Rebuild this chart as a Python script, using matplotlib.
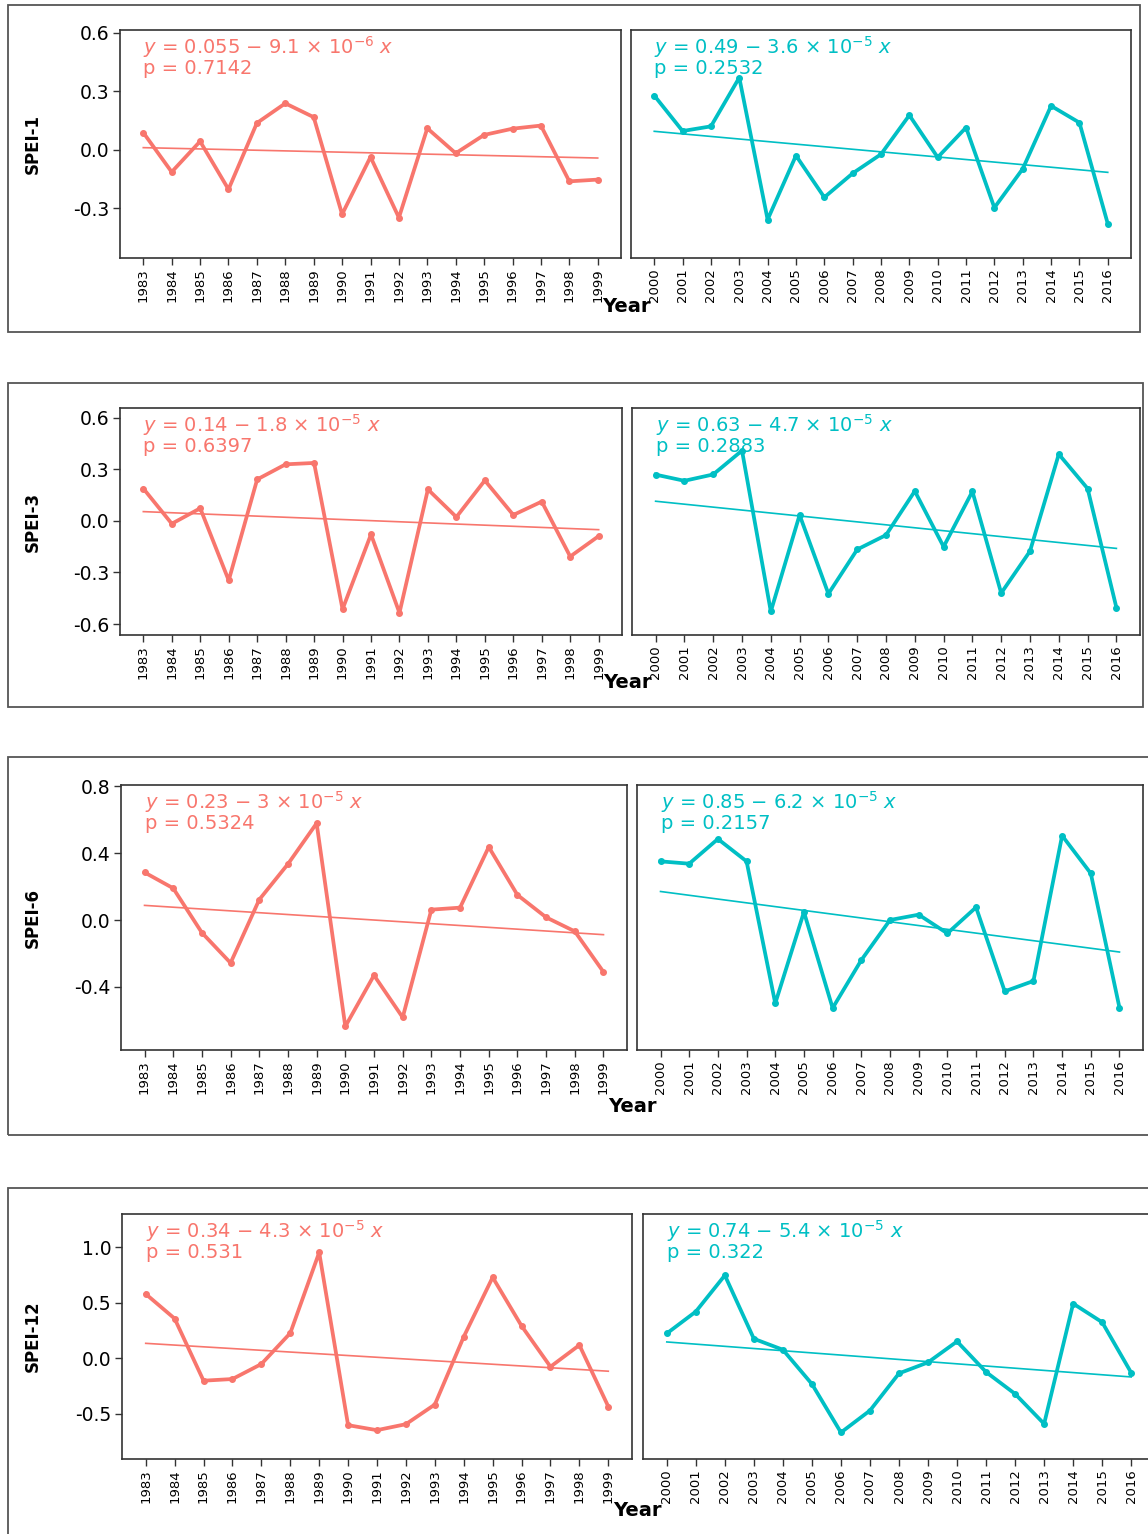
"""
SPEI-1/3/6/12 annual series for 1983-1999 and 2000-2016,
each half with its linear trend and the fitted equation.
"""

import numpy as np
import matplotlib
matplotlib.use("Agg")
import matplotlib.pyplot as plt
from matplotlib.patches import Rectangle

FIG_W, FIG_H = 1148, 1534
DPI = 100

RED = "#F8766D"
CYAN = "#00BFC4"

years_early = list(range(1983, 2000))
years_late = list(range(2000, 2017))

scales = ["SPEI-1", "SPEI-3", "SPEI-6", "SPEI-12"]

# SPEI values, 1983-1999
spei1_early = [0.089, -0.113, 0.044, -0.202, 0.138, 0.239, 0.168, -0.330, -0.036,
               -0.347, 0.111, -0.017, 0.077, 0.109, 0.125, -0.161, -0.152]
spei3_early = [0.189, -0.016, 0.074, -0.346, 0.242, 0.330, 0.338, -0.514, -0.078,
               -0.535, 0.184, 0.023, 0.236, 0.035, 0.113, -0.207, -0.088]
spei6_early = [0.285, 0.190, -0.076, -0.257, 0.122, 0.335, 0.579, -0.637, -0.331,
               -0.583, 0.062, 0.074, 0.437, 0.150, 0.016, -0.068, -0.311]
spei12_early = [0.581, 0.359, -0.201, -0.186, -0.051, 0.228, 0.955, -0.602, -0.647,
                -0.593, -0.416, 0.195, 0.731, 0.293, -0.075, 0.120, -0.434]

# SPEI values, 2000-2016
spei1_late = [0.279, 0.097, 0.121, 0.371, -0.357, -0.029, -0.243, -0.120, -0.022,
              0.178, -0.038, 0.115, -0.296, -0.097, 0.226, 0.140, -0.378]
spei3_late = [0.270, 0.234, 0.271, 0.410, -0.527, 0.035, -0.424, -0.166, -0.082,
              0.174, -0.150, 0.172, -0.420, -0.176, 0.389, 0.189, -0.504]
spei6_late = [0.351, 0.337, 0.485, 0.351, -0.499, 0.048, -0.527, -0.240, 0.000,
              0.032, -0.080, 0.076, -0.427, -0.365, 0.505, 0.279, -0.525]
spei12_late = [0.225, 0.422, 0.749, 0.177, 0.078, -0.231, -0.668, -0.470, -0.135,
               -0.036, 0.153, -0.123, -0.320, -0.590, 0.494, 0.326, -0.129]

# trend fits, x = days since 1970-01-01
intercept_early = [0.055, 0.14, 0.23, 0.34]
slope_early = [-9.1e-6, -1.8e-5, -3e-5, -4.3e-5]
p_early = [0.7142, 0.6397, 0.5324, 0.531]

intercept_late = [0.49, 0.63, 0.85, 0.74]
slope_late = [-3.6e-5, -4.7e-5, -6.2e-5, -5.4e-5]
p_late = [0.2532, 0.2883, 0.2157, 0.322]

# y axis ticks for each index
yticks = [
    [-0.3, 0.0, 0.3, 0.6],
    [-0.6, -0.3, 0.0, 0.3, 0.6],
    [-0.4, 0.0, 0.4, 0.8],
    [-0.5, 0.0, 0.5, 1.0],
]
ylims = [(-0.554, 0.615), (-0.664, 0.658), (-0.778, 0.808), (-0.907, 1.302)]

# panel geometry in pixels: box, axes top/bottom, left axes x, right axes x, Year label y
layout = [
    dict(box=(8, 5, 1140, 332), top=30, bottom=258, left=(120, 621), right=(631, 1131), year_y=307),
    dict(box=(8, 383, 1143, 707), top=408, bottom=635, left=(120, 622), right=(632, 1140), year_y=683),
    dict(box=(8, 757, 1160, 1135), top=785, bottom=1050, left=(121, 627), right=(637, 1143), year_y=1106),
    dict(box=(8, 1188, 1165, 1560), top=1214, bottom=1459, left=(122, 632), right=(643, 1155), year_y=1511),
]

PAD = 0.82
plt.rcParams["font.family"] = "DejaVu Sans"
plt.rcParams["mathtext.fontset"] = "dejavusans"


def px_rect(left, top, right, bottom):
    return [left / FIG_W, 1 - bottom / FIG_H, (right - left) / FIG_W, (bottom - top) / FIG_H]


def day_numbers(years):
    dates = np.array([f"{y}-01-01" for y in years], dtype="datetime64[D]")
    return (dates - np.datetime64("1970-01-01", "D")).astype(float)


def equation_text(intercept, slope):
    exp = int(np.floor(np.log10(abs(slope))))
    mant = float(f"{abs(slope) / 10 ** exp:.2g}")
    sign = "−" if slope < 0 else "+"
    return f"$y$ = {intercept:g} {sign} {mant:g} × 10$^{{{exp}}}$ $x$"


def draw_half(ax, years, values, intercept, slope, p, color, ylim, ticks, show_y):
    ax.plot(years, values, color=color, lw=2.7, marker="o", ms=4, zorder=3)

    # trend line from the fitted equation
    trend = intercept + slope * day_numbers(years)
    ax.plot(years, trend, color=color, lw=1.2, zorder=2)

    ax.set_xlim(years[0] - PAD, years[-1] + PAD)
    ax.set_ylim(*ylim)
    ax.set_xticks(years)
    ax.set_xticklabels([str(y) for y in years], rotation=90, fontsize=9.5)

    if show_y:
        ax.set_yticks(ticks)
        ax.set_yticklabels([f"{t:.1f}" for t in ticks], fontsize=13.5)
    else:
        ax.set_yticks([])

    ax.tick_params(direction="out", length=5, width=1, color="#333333", pad=2.5)
    for spine in ax.spines.values():
        spine.set_color("#333333")
        spine.set_linewidth(1.2)

    # equation and p value as one two-line label
    label = equation_text(intercept, slope) + f"\np = {p:g}"
    ax.annotate(label, xy=(years[0], 1),
                xycoords=("data", "axes fraction"), xytext=(0, -3),
                textcoords="offset points", ha="left", va="top",
                color=color, fontsize=14, linespacing=0.92)


def main():
    fig = plt.figure(figsize=(FIG_W / DPI, FIG_H / DPI), dpi=DPI)

    early = [spei1_early, spei3_early, spei6_early, spei12_early]
    late = [spei1_late, spei3_late, spei6_late, spei12_late]

    for i, lay in enumerate(layout):
        bl, bt, br, bb = lay["box"]
        fig.patches.append(Rectangle((bl / FIG_W, 1 - bb / FIG_H), (br - bl) / FIG_W,
                                     (bb - bt) / FIG_H, transform=fig.transFigure,
                                     fill=False, edgecolor="#555555", lw=1.3))

        ax_l = fig.add_axes(px_rect(lay["left"][0], lay["top"], lay["left"][1], lay["bottom"]))
        ax_r = fig.add_axes(px_rect(lay["right"][0], lay["top"], lay["right"][1], lay["bottom"]))

        draw_half(ax_l, years_early, early[i], intercept_early[i], slope_early[i],
                  p_early[i], RED, ylims[i], yticks[i], True)
        draw_half(ax_r, years_late, late[i], intercept_late[i], slope_late[i],
                  p_late[i], CYAN, ylims[i], yticks[i], False)

        mid_y = (lay["top"] + lay["bottom"]) / 2
        fig.text(33 / FIG_W, 1 - mid_y / FIG_H, scales[i], rotation=90,
                 fontsize=12, fontweight="bold", ha="center", va="center")
        year_x = (lay["left"][1] + lay["right"][0]) / 2
        fig.text(year_x / FIG_W, 1 - lay["year_y"] / FIG_H, "Year",
                 fontsize=14, fontweight="bold", ha="center", va="center")

    fig.savefig("out.png", dpi=DPI)


if __name__ == "__main__":
    main()
